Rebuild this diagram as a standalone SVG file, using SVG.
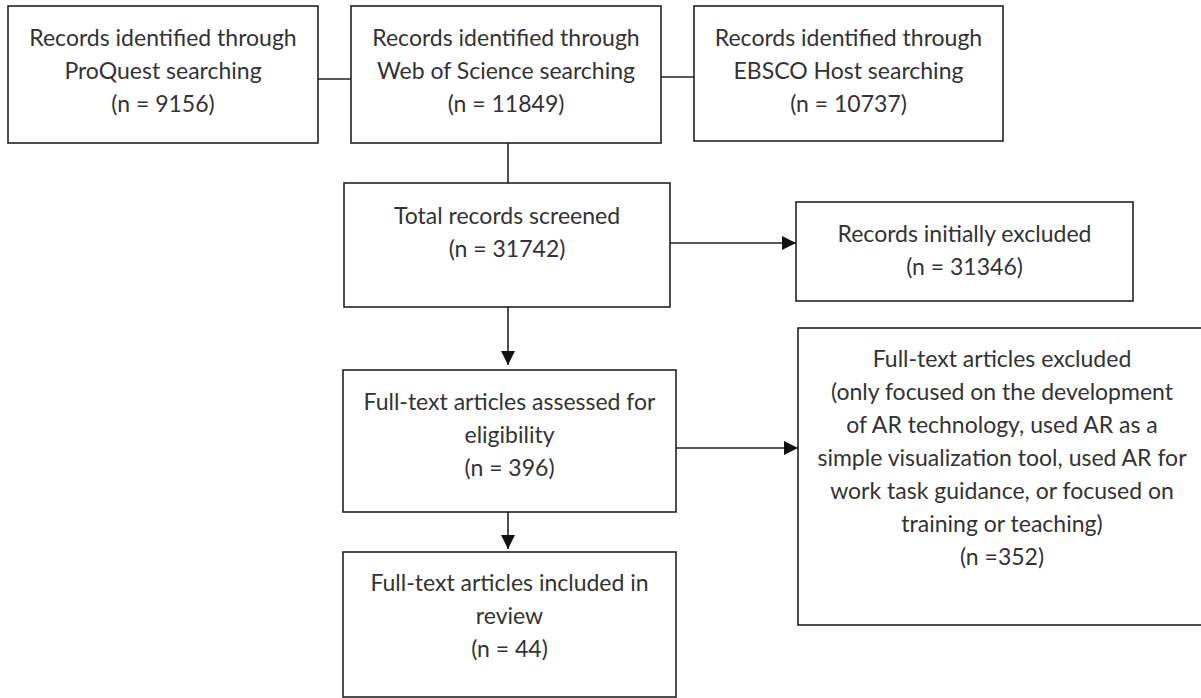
<svg xmlns="http://www.w3.org/2000/svg" width="1201" height="698" viewBox="0 0 1201 698">
<defs>
<style>
.box{fill:#fff;stroke:#222;stroke-width:1.6}
.t{font-family:Lato,"Open Sans","Liberation Sans",sans-serif;font-size:23px;fill:#333;text-anchor:middle}
.ln{stroke:#222;stroke-width:1.6;fill:none}
</style>
<marker id="ah" viewBox="0 0 14 14" refX="14" refY="7" markerWidth="14" markerHeight="14" markerUnits="userSpaceOnUse" orient="auto">
<path d="M0,0 L14,7 L0,14 Z" fill="#111"/>
</marker>
</defs>
<rect width="1201" height="698" fill="#fff"/>
<g id="connectors">
<line class="ln" x1="318" y1="79" x2="351" y2="79"/>
<line class="ln" x1="661" y1="77" x2="694" y2="77"/>
<line class="ln" x1="508" y1="143" x2="508" y2="183"/>
<line class="ln" x1="670" y1="243" x2="796" y2="243" marker-end="url(#ah)"/>
<line class="ln" x1="508" y1="307" x2="508" y2="365" marker-end="url(#ah)"/>
<line class="ln" x1="676" y1="448" x2="798" y2="448" marker-end="url(#ah)"/>
<line class="ln" x1="508" y1="512" x2="508" y2="549" marker-end="url(#ah)"/>
</g>
<g id="proquest">
<rect class="box" x="8" y="6" width="310" height="137"/>
<text class="t" x="163" y="46">Records identified through</text>
<text class="t" x="163" y="79">ProQuest searching</text>
<text class="t" x="163" y="112">(n = 9156)</text>
</g>
<g id="wos">
<rect class="box" x="351" y="6" width="310" height="137"/>
<text class="t" x="506" y="46">Records identified through</text>
<text class="t" x="506" y="79">Web of Science searching</text>
<text class="t" x="506" y="112">(n = 11849)</text>
</g>
<g id="ebsco">
<rect class="box" x="694" y="6" width="309" height="135"/>
<text class="t" x="848.5" y="46">Records identified through</text>
<text class="t" x="848.5" y="79">EBSCO Host searching</text>
<text class="t" x="848.5" y="112">(n = 10737)</text>
</g>
<g id="screened">
<rect class="box" x="344" y="183" width="326" height="124"/>
<text class="t" x="507" y="224">Total records screened</text>
<text class="t" x="507" y="257">(n = 31742)</text>
</g>
<g id="initially-excluded">
<rect class="box" x="796" y="202" width="337" height="99"/>
<text class="t" x="964.5" y="242">Records initially excluded</text>
<text class="t" x="964.5" y="275">(n = 31346)</text>
</g>
<g id="assessed">
<rect class="box" x="343" y="370" width="333" height="142"/>
<text class="t" x="509.5" y="410">Full-text articles assessed for</text>
<text class="t" x="509.5" y="443">eligibility</text>
<text class="t" x="509.5" y="476">(n = 396)</text>
</g>
<g id="fulltext-excluded">
<rect class="box" x="798" y="328" width="408" height="297"/>
<text class="t" x="1002" y="367">Full-text articles excluded</text>
<text class="t" x="1002" y="400">(only focused on the development</text>
<text class="t" x="1002" y="433">of AR technology, used AR as a</text>
<text class="t" x="1002" y="466">simple visualization tool, used AR for</text>
<text class="t" x="1002" y="499">work task guidance, or focused on</text>
<text class="t" x="1002" y="532">training or teaching)</text>
<text class="t" x="1002" y="565">(n =352)</text>
</g>
<g id="included">
<rect class="box" x="343" y="552" width="333" height="145"/>
<text class="t" x="509.5" y="591">Full-text articles included in</text>
<text class="t" x="509.5" y="624">review</text>
<text class="t" x="509.5" y="657">(n = 44)</text>
</g>
</svg>
